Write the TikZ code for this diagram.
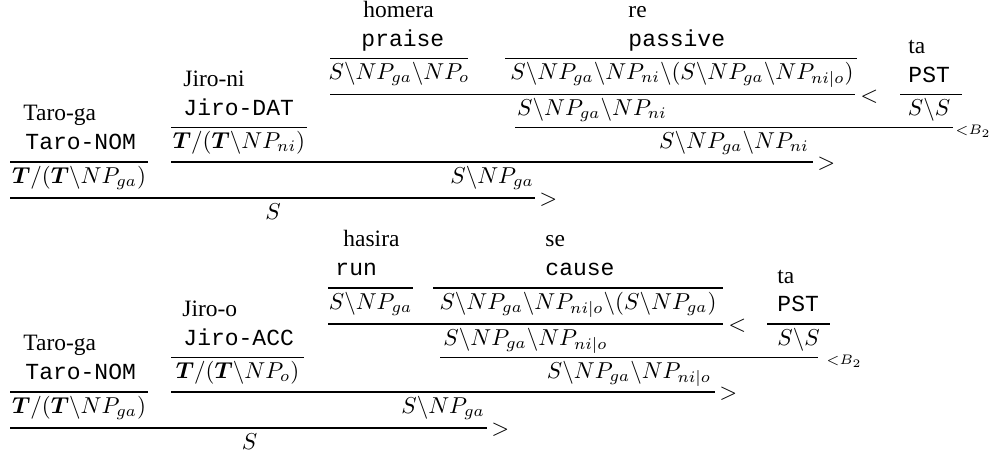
\documentclass[tikz,border=0pt]{standalone}
\usepackage{amsmath}
\usepackage[no-math]{fontspec}
\setmainfont{Liberation Serif}
\setmonofont{Liberation Mono}
\newcommand\BoldT{\boldsymbol{T}}
\begin{document}
\begin{tikzpicture}[x=0.4348pt,y=-0.4348pt,
  word/.style={anchor=base west,inner sep=0pt,font=\fontsize{10.2}{12}\selectfont},
  gloss/.style={anchor=base west,inner sep=0pt,font=\fontsize{10}{12}\selectfont\ttfamily},
  cat/.style={anchor=base,inner sep=0pt,font=\fontsize{10}{12}\selectfont},
  rulebar/.style={line width=0.5pt},
  lab/.style={anchor=west,inner sep=0pt,font=\fontsize{10}{12}\selectfont},
  smalllab/.style={anchor=west,inner sep=0pt,font=\fontsize{8.5}{10}\selectfont}]
\useasboundingbox (0,0) rectangle (998,456);

% ---------------- Derivation 1 ----------------
% Taro-ga
\node[word]  (a1w) at (23,120)   {Taro-ga};
\node[gloss] (a1g) at (25,149.5) {Taro-NOM};
\draw[rulebar] (10,162) -- (148,162);
\node[cat]   (a1c) at (79,183)   {$\BoldT/(\BoldT\backslash NP_{ga})$};
% Jiro-ni
\node[word]  (a2w) at (183,86) {Jiro-ni};
\node[gloss] (a2g) at (183,115)  {Jiro-DAT};
\draw[rulebar] (171,127.5) -- (307,127.5);
\node[cat]   (a2c) at (239,148.5) {$\BoldT/(\BoldT\backslash NP_{ni})$};
% homera
\node[word]  (a3w) at (363,17) {homera};
\node[gloss] (a3g) at (361,46)   {praise};
\draw[rulebar] (330,58.5) -- (468,58.5);
\node[cat]   (a3c) at (399,79.5) {$S\backslash NP_{ga}\backslash NP_{o}$};
% re
\node[word]  (a4w) at (628,17) {re};
\node[gloss] (a4g) at (628,46)   {passive};
\draw[rulebar] (505,58.5) -- (857,58.5);
\node[cat]   (a4c) at (682,79.5) {$S\backslash NP_{ga}\backslash NP_{ni}\backslash(S\backslash NP_{ga}\backslash NP_{ni|o})$};
% ta
\node[word]  (a5w) at (908,53) {ta};
\node[gloss] (a5g) at (908,82)   {PST};
\draw[rulebar] (900,94.5) -- (962,94.5);
\node[cat]   (a5c) at (929,115.5) {$S\backslash S$};
% combinations
\draw[rulebar] (330,94.5) -- (855,94.5);
\node[lab]   (a6l) at (860,96.5) {$<$};
\node[cat]   (a6c) at (592,115.5) {$S\backslash NP_{ga}\backslash NP_{ni}$};
\draw[rulebar] (515,127.5) -- (953,127.5);
\node[smalllab] (a7l) at (955,131.5) {$\scriptstyle <B_2$};
\node[cat]   (a7c) at (734,148.5) {$S\backslash NP_{ga}\backslash NP_{ni}$};
\draw[rulebar] (171,162) -- (813,162);
\node[lab]   (a8l) at (817,164) {$>$};
\node[cat]   (a8c) at (492,183) {$S\backslash NP_{ga}$};
\draw[rulebar] (10,198) -- (535,198);
\node[lab]   (a9l) at (539,200) {$>$};
\node[cat]   (a9c) at (273,219) {$S$};

% ---------------- Derivation 2 ----------------
% Taro-ga
\node[word]  (b1w) at (23,350)   {Taro-ga};
\node[gloss] (b1g) at (25,379.5) {Taro-NOM};
\draw[rulebar] (10,392) -- (148,392);
\node[cat]   (b1c) at (79,413)   {$\BoldT/(\BoldT\backslash NP_{ga})$};
% Jiro-o
\node[word]  (b2w) at (182,316) {Jiro-o};
\node[gloss] (b2g) at (183,345)   {Jiro-ACC};
\draw[rulebar] (171,357.5) -- (304,357.5);
\node[cat]   (b2c) at (237.5,378.5) {$\BoldT/(\BoldT\backslash NP_{o})$};
% hasira
\node[word]  (b3w) at (343,246.5)   {hasira};
\node[gloss] (b3g) at (335,275.5) {run};
\draw[rulebar] (328,288) -- (413,288);
\node[cat]   (b3c) at (370.5,309) {$S\backslash NP_{ga}$};
% se
\node[word]  (b4w) at (545,246.5)   {se};
\node[gloss] (b4g) at (545,275.5) {cause};
\draw[rulebar] (433,288) -- (723,288);
\node[cat]   (b4c) at (578,309) {$S\backslash NP_{ga}\backslash NP_{ni|o}\backslash(S\backslash NP_{ga})$};
% ta
\node[word]  (b5w) at (777,283)   {ta};
\node[gloss] (b5g) at (777,311.5) {PST};
\draw[rulebar] (767,324) -- (830,324);
\node[cat]   (b5c) at (798.5,345) {$S\backslash S$};
% combinations
\draw[rulebar] (328,324) -- (723,324);
\node[lab]   (b6l) at (728,326) {$<$};
\node[cat]   (b6c) at (525.5,345) {$S\backslash NP_{ga}\backslash NP_{ni|o}$};
\draw[rulebar] (440,357.5) -- (818,357.5);
\node[smalllab] (b7l) at (826,361.5) {$\scriptstyle <B_2$};
\node[cat]   (b7c) at (629,378.5) {$S\backslash NP_{ga}\backslash NP_{ni|o}$};
\draw[rulebar] (171,392) -- (715,392);
\node[lab]   (b8l) at (719,394) {$>$};
\node[cat]   (b8c) at (443,413) {$S\backslash NP_{ga}$};
\draw[rulebar] (10,428) -- (487,428);
\node[lab]   (b9l) at (491,430) {$>$};
\node[cat]   (b9c) at (249.5,449) {$S$};
\end{tikzpicture}
\end{document}
